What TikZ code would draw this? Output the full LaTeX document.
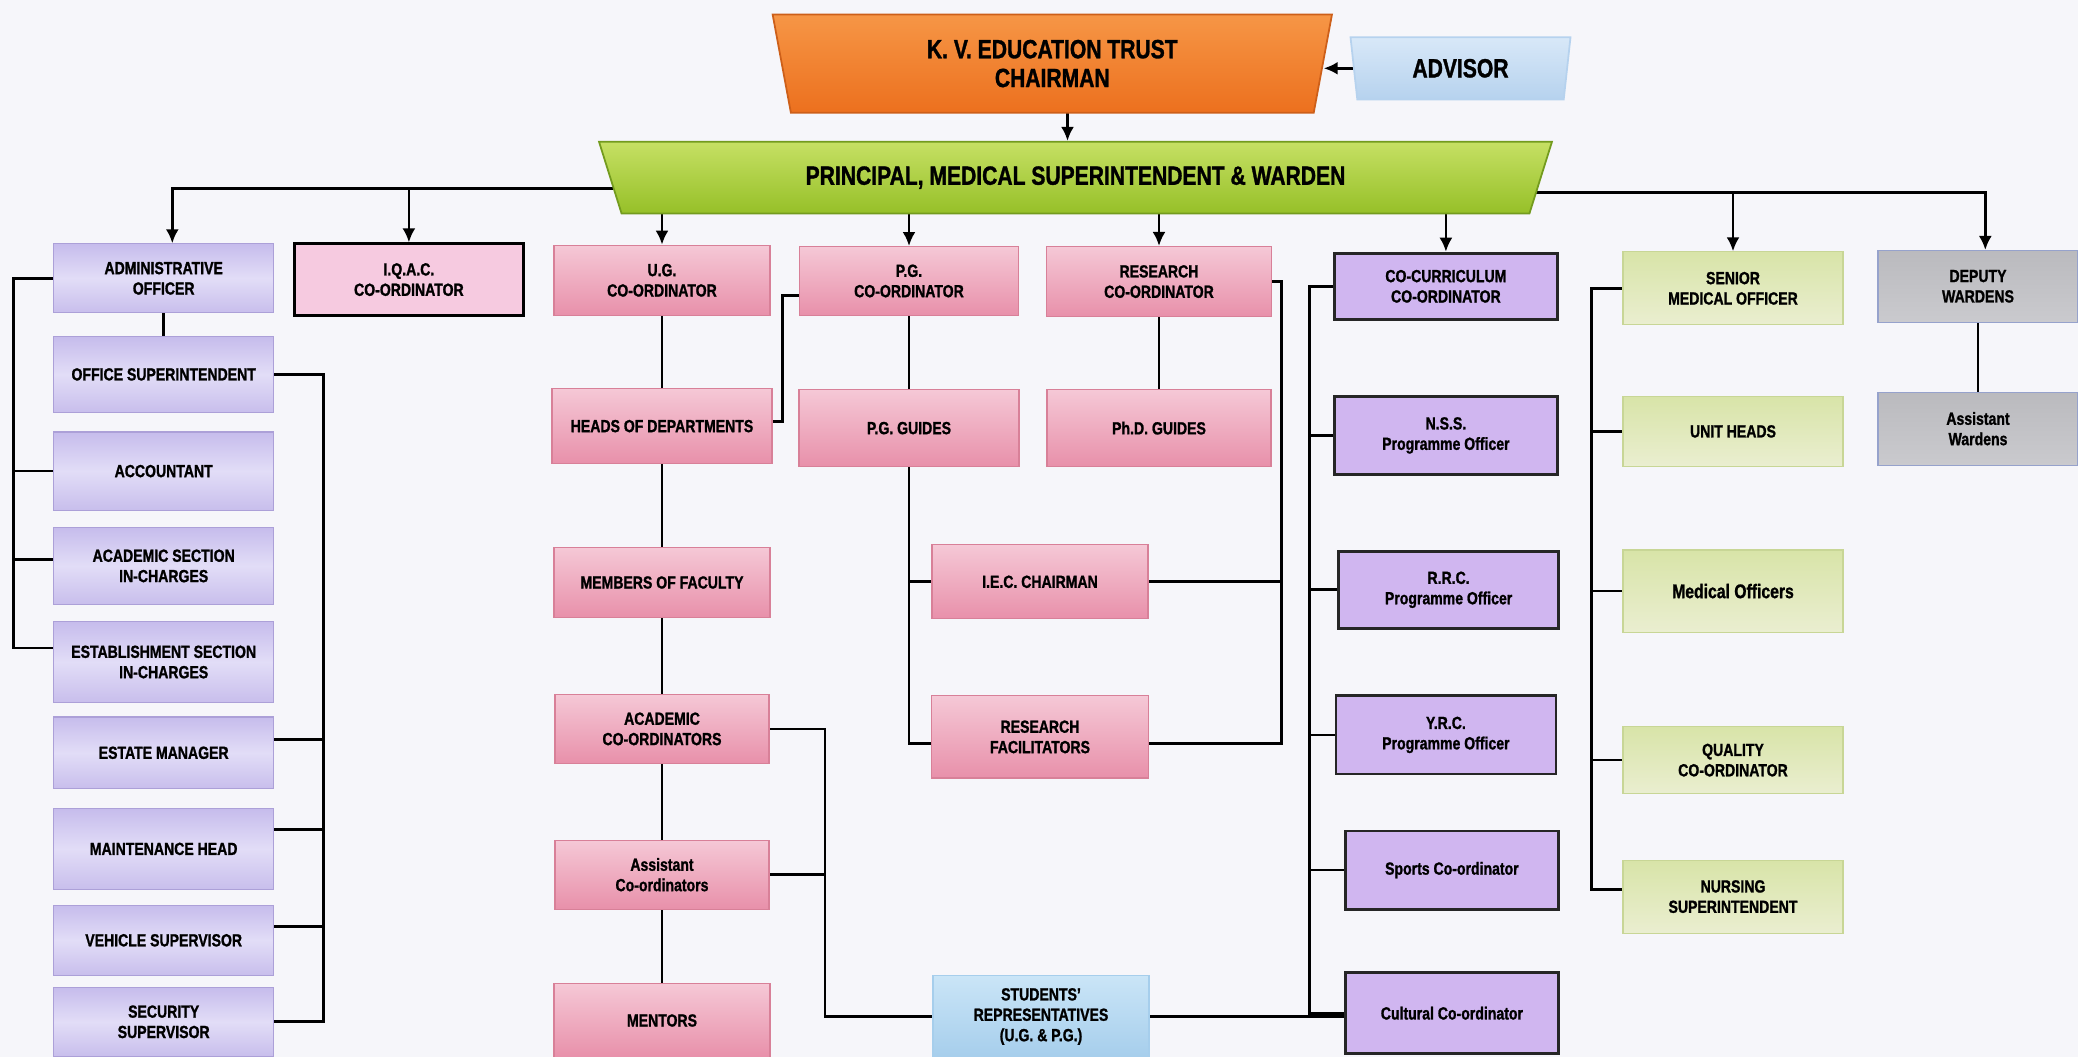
\documentclass[tikz,border=0pt]{standalone}
\usepackage{fontspec}
\setmainfont{Liberation Sans}[FakeStretch=0.8, BoldFeatures={FakeBold=1.2}]
\usepackage{xcolor}
\usepackage{tikz}
\usetikzlibrary{arrows.meta,positioning,shapes.geometric,backgrounds,calc}
\definecolor{pagebg}{RGB}{246,246,250}
\definecolor{trustA}{RGB}{246,150,70}
\definecolor{trustB}{RGB}{236,112,30}
\definecolor{trustline}{RGB}{205,95,25}
\definecolor{principalA}{RGB}{198,224,100}
\definecolor{principalB}{RGB}{150,192,40}
\definecolor{principalline}{RGB}{115,155,30}
\definecolor{advisorA}{RGB}{216,232,248}
\definecolor{advisorB}{RGB}{182,210,238}
\definecolor{officeA}{RGB}{198,188,236}
\definecolor{officeM}{RGB}{226,221,247}
\definecolor{officeB}{RGB}{200,190,236}
\definecolor{officeline}{RGB}{172,160,216}
\definecolor{facultyA}{RGB}{245,200,214}
\definecolor{facultyB}{RGB}{232,144,170}
\definecolor{facultyline}{RGB}{216,128,152}
\definecolor{iqacfill}{RGB}{246,202,224}
\definecolor{cocfill}{RGB}{208,182,240}
\definecolor{medA}{RGB}{216,228,168}
\definecolor{medB}{RGB}{234,238,208}
\definecolor{medline}{RGB}{200,214,150}
\definecolor{wardA}{RGB}{186,186,190}
\definecolor{wardB}{RGB}{202,202,206}
\definecolor{wardline}{RGB}{150,162,204}
\definecolor{studA}{RGB}{202,229,247}
\definecolor{studB}{RGB}{166,206,236}

\begin{document}
\begin{tikzpicture}[
  font=\fontsize{5}{5.8}\selectfont\bfseries,
  post/.style={rectangle, align=center, inner sep=1pt, minimum width=2.2cm, minimum height=0.72cm},
  office/.style={post, draw=officeline, line width=0.3pt, top color=officeA, bottom color=officeB, middle color=officeM},
  faculty/.style={post, draw=facultyline, line width=0.3pt, top color=facultyA, bottom color=facultyB},
  iqac/.style={post, draw=black, line width=0.8pt, fill=iqacfill},
  cocurr/.style={post, draw=black!85, line width=0.8pt, fill=cocfill},
  medical/.style={post, draw=medline, line width=0.3pt, top color=medA, bottom color=medB},
  warden/.style={post, draw=wardline, line width=0.3pt, top color=wardA, bottom color=wardB},
  student/.style={post, draw=studB, line width=0.3pt, top color=studA, bottom color=studB},
  topshape/.style={trapezium, shape border rotate=180, trapezium stretches body, inner sep=0pt, align=center, line width=0.5pt, font=\fontsize{7.5}{8.2}\selectfont\bfseries},
  link/.style={line width=0.75pt},
  arrow/.style={link, -{Latex[length=1.4mm, width=1.3mm]}}
]
  \useasboundingbox (0,0) rectangle (20.78,-10.57);
  \begin{scope}[on background layer]
    \fill[pagebg] (0,0) rectangle (20.78,-10.57);
  \end{scope}

  \node[topshape, trapezium angle=69, minimum width=5.593cm, minimum height=0.981cm, draw=trustline, top color=trustA, bottom color=trustB] (chair) at (10.523,-0.636) {K. V. EDUCATION TRUST\\CHAIRMAN};
  \node[topshape, trapezium angle=70, minimum width=2.2cm, minimum height=0.623cm, draw=advisorB, top color=advisorA, bottom color=advisorB] (adv) at (14.605,-0.683) {ADVISOR};
  \node[topshape, trapezium angle=45, minimum width=9.529cm, minimum height=0.716cm, draw=principalline, top color=principalA, bottom color=principalB] (prin) at (10.755,-1.776) {PRINCIPAL, MEDICAL SUPERINTENDENT \& WARDEN};

  \node[office, minimum height=0.689cm] (adm) at (1.637,-2.783) {ADMINISTRATIVE\\OFFICER};
  \node[office, minimum height=0.755cm] (off) at (1.637,-3.744) {OFFICE SUPERINTENDENT};
  \node[office, minimum height=0.782cm] (acct) at (1.637,-4.711) {ACCOUNTANT};
  \node[office, minimum height=0.769cm] (acad) at (1.637,-5.659) {ACADEMIC SECTION\\IN-CHARGES};
  \node[office, minimum height=0.808cm] (estb) at (1.637,-6.620) {ESTABLISHMENT SECTION\\IN-CHARGES};
  \node[office, minimum height=0.716cm] (estm) at (1.637,-7.528) {ESTATE MANAGER};
  \node[office, minimum height=0.808cm] (mnt) at (1.637,-8.489) {MAINTENANCE HEAD};
  \node[office, minimum height=0.702cm] (veh) at (1.637,-9.403) {VEHICLE SUPERVISOR};
  \node[office, minimum height=0.689cm] (sec) at (1.637,-10.218) {SECURITY\\SUPERVISOR};

  \node[iqac, minimum width=2.293cm, minimum height=0.716cm] (iqac) at (4.089,-2.796) {I.Q.A.C.\\CO-ORDINATOR};

  \node[faculty, minimum width=2.16cm, minimum height=0.702cm] (ug) at (6.62,-2.803) {U.G.\\CO-ORDINATOR};
  \node[faculty, minimum height=0.755cm] (hod) at (6.62,-4.261) {HEADS OF DEPARTMENTS};
  \node[faculty, minimum width=2.16cm, minimum height=0.702cm] (mof) at (6.62,-5.825) {MEMBERS OF FACULTY};
  \node[faculty, minimum width=2.14cm, minimum height=0.689cm] (aco) at (6.62,-7.289) {ACADEMIC\\CO-ORDINATORS};
  \node[faculty, minimum width=2.14cm, minimum height=0.689cm] (asst) at (6.62,-8.747) {Assistant\\Co-ordinators};
  \node[faculty, minimum width=2.16cm, minimum height=0.742cm] (ment) at (6.62,-10.205) {MENTORS};

  \node[faculty, minimum width=2.187cm, minimum height=0.689cm] (pg) at (9.09,-2.810) {P.G.\\CO-ORDINATOR};
  \node[faculty, minimum height=0.769cm] (pgg) at (9.09,-4.281) {P.G. GUIDES};
  \node[faculty, minimum width=2.16cm, minimum height=0.742cm] (iec) at (10.40,-5.818) {I.E.C. CHAIRMAN};
  \node[faculty, minimum width=2.17cm, minimum height=0.822cm] (rf) at (10.40,-7.369) {RESEARCH\\FACILITATORS};
  \node[faculty, minimum width=2.253cm, minimum height=0.702cm] (res) at (11.59,-2.816) {RESEARCH\\CO-ORDINATOR};
  \node[faculty, minimum width=2.24cm, minimum height=0.769cm] (phd) at (11.59,-4.281) {Ph.D. GUIDES};
  \node[student, minimum width=2.16cm, minimum height=0.822cm] (stu) at (10.41,-10.165) {STUDENTS'\\REPRESENTATIVES\\(U.G. \& P.G.)};

  \node[cocurr, minimum width=2.227cm, minimum height=0.663cm] (cc) at (14.459,-2.863) {CO-CURRICULUM\\CO-ORDINATOR};
  \node[cocurr, minimum width=2.227cm, minimum height=0.782cm] (nss) at (14.459,-4.354) {N.S.S.\\Programme Officer};
  \node[cocurr, minimum height=0.769cm] (rrc) at (14.486,-5.898) {R.R.C.\\Programme Officer};
  \node[cocurr, minimum height=0.782cm] (yrc) at (14.459,-7.349) {Y.R.C.\\Programme Officer};
  \node[cocurr, minimum width=2.134cm, minimum height=0.782cm] (spt) at (14.519,-8.701) {Sports Co-ordinator};
  \node[cocurr, minimum width=2.134cm, minimum height=0.808cm] (cult) at (14.519,-10.132) {Cultural Co-ordinator};

  \node[medical, minimum height=0.729cm] (smo) at (17.33,-2.883) {SENIOR\\MEDICAL OFFICER};
  \node[medical, minimum height=0.702cm] (uh) at (17.33,-4.314) {UNIT HEADS};
  \node[medical, minimum height=0.822cm, font=\fontsize{5.6}{6.4}\selectfont\bfseries] (mo) at (17.33,-5.911) {Medical Officers};
  \node[medical, minimum height=0.676cm] (qc) at (17.33,-7.601) {QUALITY\\CO-ORDINATOR};
  \node[medical, minimum height=0.729cm] (nsup) at (17.33,-8.966) {NURSING\\SUPERINTENDENT};

  \node[warden, minimum width=2.0cm, minimum height=0.716cm] (dw) at (19.78,-2.863) {DEPUTY\\WARDENS};
  \node[warden, minimum width=2.0cm, minimum height=0.729cm] (aw) at (19.78,-4.287) {Assistant\\Wardens};

  \coordinate (lbus) at ([yshift=-0.106cm]prin.center);
  \coordinate (rbus) at ([yshift=-0.152cm]prin.center);
  \coordinate (cp) at ([xshift=0.152cm]chair.center);

  \begin{scope}[on background layer]
    \draw[arrow] (adv.west) -- (adv.west -| chair.east);
    \draw[arrow] (cp) -- (cp |- prin.north);

    \draw[arrow] (lbus) -| ([xshift=0.086cm]adm.north);
    \draw[arrow] (lbus -| iqac.north) -- (iqac.north);
    \draw[arrow] (prin.center -| ug.north) -- (ug.north);
    \draw[arrow] (prin.center -| pg.north) -- (pg.north);
    \draw[arrow] (prin.center -| res.north) -- (res.north);
    \draw[arrow] (prin.center -| cc.north) -- (cc.north);
    \draw[arrow] (rbus) -| ([xshift=0.073cm]dw.north);
    \draw[arrow] (rbus -| smo.north) -- (smo.north);

    \draw[link] (adm.south) -- (off.north);
    \draw[link] (adm.west) -- ++(-0.398,0) coordinate (alb) |- ([yshift=0.139cm]estb.west);
    \draw[link] (acct.west) -| (alb);
    \draw[link] ([yshift=0.066cm]acad.west) -| (alb);
    \draw[link] (off.east) -- ++(0.49,0) coordinate (arb) |- (sec.east);
    \draw[link] ([yshift=0.133cm]estm.east) -| (arb);
    \draw[link] ([yshift=0.192cm]mnt.east) -| (arb);
    \draw[link] ([yshift=0.139cm]veh.east) -| (arb);

    \draw[link] (ug.south) -- (hod.north);
    \draw[link] (hod.south) -- (mof.north);
    \draw[link] (mof.south) -- (aco.north);
    \draw[link] (aco.south) -- (asst.north);
    \draw[link] (asst.south) -- (ment.north);
    \draw[link] ([yshift=0.047cm]hod.east) -| ([xshift=-0.165cm,yshift=-0.146cm]pg.west) -- ([yshift=-0.146cm]pg.west);
    \draw[link] (aco.east) -- ++(0.553,0) coordinate (sgb) |- (stu.west);
    \draw[link] (asst.east) -| (sgb);

    \draw[link] (pg.south) -- (pgg.north);
    \draw[link] (pgg.south) |- ([yshift=-0.066cm]rf.west);
    \draw[link] (iec.west) -| (pgg.south);
    \draw[link] (res.south) -- (phd.north);
    \draw[link] (res.east) -- ++(0.093,0) coordinate (rsb) |- ([yshift=-0.066cm]rf.east);
    \draw[link] (iec.east) -| (rsb);

    \draw[link] (stu.east) -- (stu.east -| cult.west);
    \draw[link] (cc.west) -- ++(-0.2385,0) coordinate (ccb) |- (cult.west);
    \foreach \n in {nss,rrc,yrc,spt} \draw[link] (\n.west) -| (ccb);

    \draw[link] (smo.west) -- ++(-0.313,0) coordinate (mdb) |- ([yshift=0.073cm]nsup.west);
    \foreach \n in {uh,mo,qc} \draw[link] (\n.west) -| (mdb);

    \draw[link] (dw.south) -- (aw.north);
  \end{scope}
\end{tikzpicture}
\end{document}
